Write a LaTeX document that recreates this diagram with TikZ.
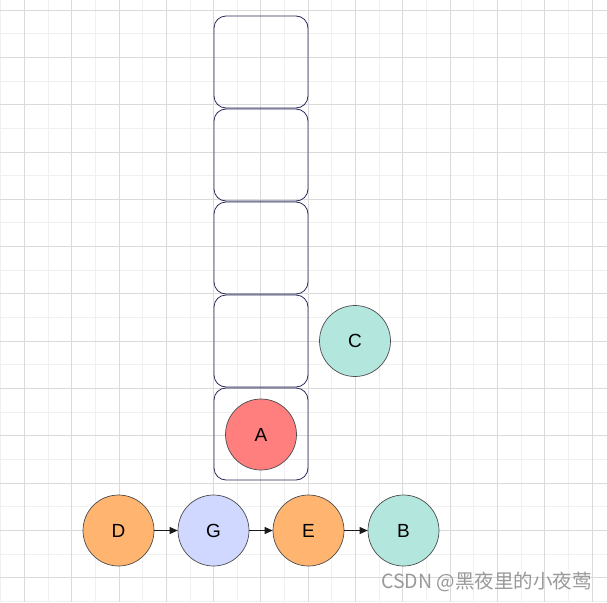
\documentclass[tikz,border=0pt]{standalone}
\usepackage{fontspec}
\setmainfont{Liberation Sans}
\newfontfamily\cjkfont{Noto Sans CJK SC}
\usepackage{tikz}
\usepackage{xcolor}
\usetikzlibrary{arrows.meta}

\definecolor{gridfine}{HTML}{F0F0F0}
\definecolor{gridbold}{HTML}{DADADA}
\definecolor{slotline}{HTML}{2A2A5A}
\definecolor{orangefill}{HTML}{FFB570}
\definecolor{bluefill}{HTML}{D0D8FF}
\definecolor{mintfill}{HTML}{B3E7DE}
\definecolor{redfill}{HTML}{FF7F7F}

\begin{document}
\begin{tikzpicture}[x=1pt,y=-1pt,
  ball/.style={circle, draw=black!70, line width=0.7pt, minimum size=71pt, inner sep=0pt, font=\fontsize{19}{22}\selectfont},
  slot/.style={rectangle, rounded corners=12pt, draw=slotline, line width=0.8pt, minimum width=94pt, minimum height=92pt},
  link/.style={-{Triangle[length=8pt,width=7pt]}, draw=black!90, line width=0.8pt}]
\useasboundingbox (0,0) rectangle (607,602);
\fill[white] (0,0) rectangle (607,602);
% grid
\foreach \i in {0,...,25} {
  \draw[gridfine, line width=0.8pt] (0.7+23.65*\i,0) -- (0.7+23.65*\i,602);
  \draw[gridfine, line width=0.8pt] (0,10+23.65*\i) -- (607,10+23.65*\i);
}
\foreach \i in {0,...,12} {
  \draw[gridbold, line width=0.8pt] (24.35+47.3*\i,0) -- (24.35+47.3*\i,602);
  \draw[gridbold, line width=0.8pt] (0,10+47.3*\i) -- (607,10+47.3*\i);
}
% stack
\node[slot] (s5) at (261,62) {};
\node[slot] (s4) at (261,155) {};
\node[slot] (s3) at (261,248) {};
\node[slot] (s2) at (261,341) {};
\node[slot] (s1) at (261,434) {};

\node[ball, fill=redfill] (A) at (261,434.5) {A};
\node[ball, fill=mintfill] (C) at (355,341) {C};

\node[ball, fill=orangefill] (D) at (118.5,530.5) {D};
\node[ball, fill=bluefill] (G) at (213.5,530.5) {G};
\node[ball, fill=orangefill] (E) at (308.5,530.5) {E};
\node[ball, fill=mintfill] (B) at (403.5,530.5) {B};

\draw[link] (D) -- (G);
\draw[link] (G) -- (E);
\draw[link] (E) -- (B);

\node[text=black!40, font=\cjkfont\fontsize{19.5}{22}\selectfont, inner sep=0pt] (mark) at (486.5,581.5) {CSDN @黑夜里的小夜莺};
\end{tikzpicture}
\end{document}
